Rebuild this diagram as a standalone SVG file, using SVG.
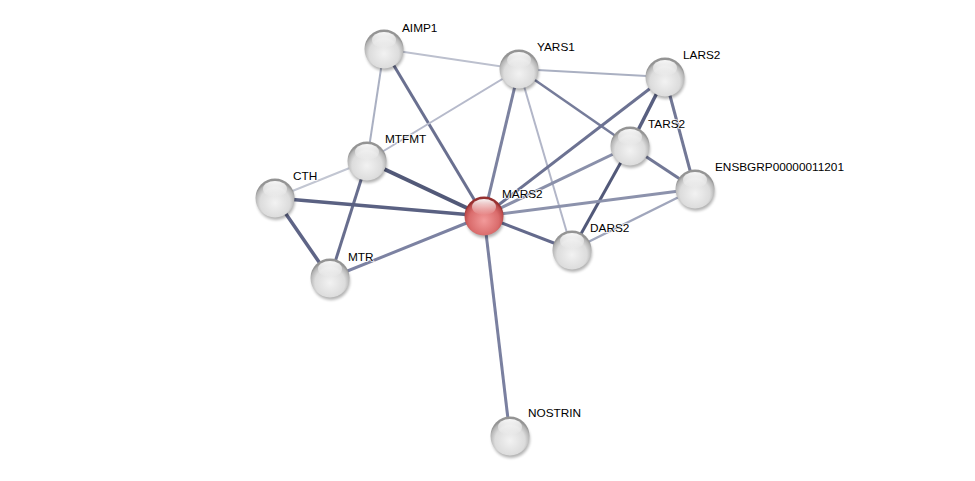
<svg xmlns="http://www.w3.org/2000/svg" xmlns:xlink="http://www.w3.org/1999/xlink" width="975" height="481" viewBox="0 0 975 481">
<defs>
<radialGradient id="gg" cx="0.5" cy="0.62" r="0.55">
<stop offset="0" stop-color="#f2f2f2"/><stop offset="0.7" stop-color="#dcdcdc"/><stop offset="0.92" stop-color="#b4b4b4"/><stop offset="1" stop-color="#949494"/>
</radialGradient>
<radialGradient id="rg" cx="0.5" cy="0.62" r="0.55">
<stop offset="0" stop-color="#f29a9a"/><stop offset="0.7" stop-color="#da6c6c"/><stop offset="0.92" stop-color="#bc4c4c"/><stop offset="1" stop-color="#963030"/>
</radialGradient>
<linearGradient id="hl" x1="0" y1="0" x2="0" y2="1">
<stop offset="0" stop-color="#fff" stop-opacity="0.95"/><stop offset="1" stop-color="#fff" stop-opacity="0"/>
</linearGradient>
<filter id="sh" x="-50%" y="-50%" width="200%" height="200%"><feGaussianBlur stdDeviation="1.5"/></filter>
<g id="ball">
<circle cx="1" cy="3" r="19" fill="#000" opacity="0.3" filter="url(#sh)"/>
<circle r="19.5" fill="url(#gg)"/>
<ellipse cy="-9" rx="12" ry="8" fill="url(#hl)"/>
</g>
<g id="rball">
<circle cx="1" cy="3" r="19" fill="#000" opacity="0.3" filter="url(#sh)"/>
<circle r="19.5" fill="url(#rg)"/>
<ellipse cy="-9" rx="12" ry="8" fill="url(#hl)"/>
</g>
</defs>
<style>
.e{fill:none;stroke-linecap:butt}
.l{font-family:"Liberation Sans",Arial,sans-serif;font-size:11.8px;fill:#000;paint-order:stroke;stroke:#fff;stroke-width:2px;stroke-opacity:0.7}
</style>
<rect width="975" height="481" fill="#fff"/>
<g id="edges" class="e">
<line x1="384" y1="49" x2="519" y2="69" stroke="#bcc0ce" stroke-width="2"/>
<line x1="384" y1="49" x2="367" y2="161" stroke="#aab0c2" stroke-width="2"/>
<line x1="384" y1="49" x2="484" y2="216" stroke="#6a7090" stroke-width="3"/>
<line x1="519" y1="69" x2="665" y2="77" stroke="#aab0c2" stroke-width="2"/>
<line x1="519" y1="69" x2="367" y2="161" stroke="#b6bacb" stroke-width="2"/>
<line x1="519" y1="69" x2="484" y2="216" stroke="#7c82a0" stroke-width="3"/>
<line x1="519" y1="69" x2="630" y2="146" stroke="#767c9a" stroke-width="2.5"/>
<line x1="519" y1="69" x2="572" y2="250" stroke="#b2b6c8" stroke-width="2"/>
<line x1="665" y1="77" x2="484" y2="216" stroke="#6c7292" stroke-width="3"/>
<line x1="665" y1="77" x2="630" y2="146" stroke="#585f80" stroke-width="3.5"/>
<line x1="665" y1="77" x2="695" y2="189" stroke="#727896" stroke-width="3"/>
<line x1="630" y1="146" x2="484" y2="216" stroke="#8a90aa" stroke-width="3"/>
<line x1="630" y1="146" x2="695" y2="189" stroke="#727896" stroke-width="3"/>
<line x1="630" y1="146" x2="572" y2="250" stroke="#525979" stroke-width="3"/>
<line x1="695" y1="189" x2="484" y2="216" stroke="#8c92ac" stroke-width="3"/>
<line x1="695" y1="189" x2="572" y2="250" stroke="#a0a6bc" stroke-width="2.5"/>
<line x1="367" y1="161" x2="484" y2="216" stroke="#525978" stroke-width="4"/>
<line x1="367" y1="161" x2="275" y2="198" stroke="#c2c6d2" stroke-width="2"/>
<line x1="367" y1="161" x2="330" y2="278" stroke="#686e8e" stroke-width="3"/>
<line x1="275" y1="198" x2="484" y2="216" stroke="#5a6182" stroke-width="3.5"/>
<line x1="275" y1="198" x2="330" y2="278" stroke="#5e6486" stroke-width="3.5"/>
<line x1="330" y1="278" x2="484" y2="216" stroke="#7c82a2" stroke-width="3"/>
<line x1="484" y1="216" x2="572" y2="250" stroke="#646a8c" stroke-width="3"/>
<line x1="484" y1="216" x2="510" y2="436" stroke="#7a80a0" stroke-width="3"/>
</g>
<g id="AIMP1"><use xlink:href="#ball" x="384" y="49"/><text class="l" x="402" y="32">AIMP1</text></g>
<g id="YARS1"><use xlink:href="#ball" x="519" y="69"/><text class="l" x="537" y="51">YARS1</text></g>
<g id="LARS2"><use xlink:href="#ball" x="665" y="77"/><text class="l" x="683" y="59">LARS2</text></g>
<g id="TARS2"><use xlink:href="#ball" x="630" y="146"/><text class="l" x="648" y="128">TARS2</text></g>
<g id="ENSBGRP00000011201"><use xlink:href="#ball" x="695" y="189"/><text class="l" x="715" y="171">ENSBGRP00000011201</text></g>
<g id="MTFMT"><use xlink:href="#ball" x="367" y="161"/><text class="l" x="385" y="143">MTFMT</text></g>
<g id="CTH"><use xlink:href="#ball" x="275" y="198"/><text class="l" x="293" y="180">CTH</text></g>
<g id="MTR"><use xlink:href="#ball" x="330" y="278"/><text class="l" x="348" y="261">MTR</text></g>
<g id="DARS2"><use xlink:href="#ball" x="572" y="250"/><text class="l" x="590" y="232">DARS2</text></g>
<g id="NOSTRIN"><use xlink:href="#ball" x="510" y="436"/><text class="l" x="528" y="417">NOSTRIN</text></g>
<g id="MARS2"><use xlink:href="#rball" x="484" y="216"/><text class="l" x="502" y="198">MARS2</text></g>
</svg>
